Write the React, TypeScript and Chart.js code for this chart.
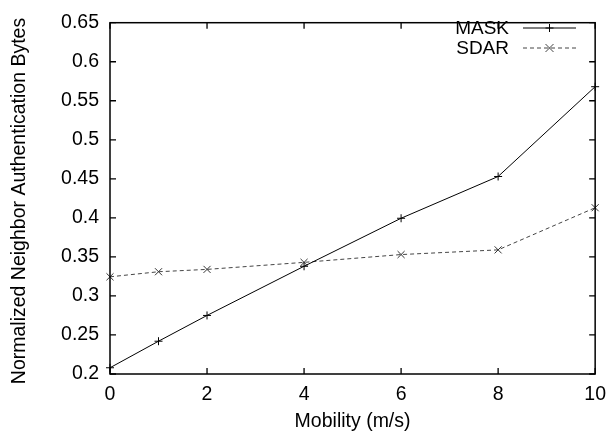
import React, { useEffect, useRef } from "react";
import { Chart, registerables } from "chart.js";

Chart.register(...registerables);

const mobility = [0, 1, 2, 4, 6, 8, 10];
const maskValues = [0.208, 0.242, 0.275, 0.338, 0.3995, 0.453, 0.568];
const sdarValues = [0.3245, 0.331, 0.334, 0.343, 0.353, 0.359, 0.413];
const xTicks = [0, 2, 4, 6, 8, 10];
const yTicks = [0.2, 0.25, 0.3, 0.35, 0.4, 0.45, 0.5, 0.55, 0.6, 0.65];
const yTitle = "Normalized Neighbor Authentication Bytes";
const xTitle = "Mobility (m/s)";

const FONT = "'Liberation Sans', Arial, sans-serif";

const frameTicks = {
  id: "frameTicks",
  afterDatasetsDraw(chart: any) {
    const { ctx, chartArea } = chart;
    const { left, right, top, bottom } = chartArea;
    const xs = chart.scales.x;
    const ys = chart.scales.y;
    const len = 6;
    ctx.save();
    ctx.strokeStyle = "#000";
    ctx.lineWidth = 1.3;
    ctx.beginPath();
    xTicks.forEach((v) => {
      const px = xs.getPixelForValue(v);
      ctx.moveTo(px, bottom);
      ctx.lineTo(px, bottom - len);
      ctx.moveTo(px, top);
      ctx.lineTo(px, top + len);
    });
    yTicks.forEach((v) => {
      const py = ys.getPixelForValue(v);
      ctx.moveTo(left, py);
      ctx.lineTo(left + len, py);
      ctx.moveTo(right, py);
      ctx.lineTo(right - len, py);
    });
    ctx.stroke();
    ctx.lineWidth = 1.5;
    ctx.strokeRect(left, top, right - left, bottom - top);
    ctx.restore();
  },
};

const yTitlePlugin = {
  id: "yTitlePlugin",
  afterDraw(chart: any) {
    const { ctx } = chart;
    ctx.save();
    ctx.translate(25, 201);
    ctx.rotate(-Math.PI / 2);
    ctx.fillStyle = "#000";
    ctx.font = `19.5px ${FONT}`;
    ctx.textAlign = "center";
    ctx.textBaseline = "alphabetic";
    ctx.fillText(yTitle, 0, 0);
    ctx.restore();
  },
};

const insideLegend = {
  id: "insideLegend",
  afterDraw(chart: any) {
    const { ctx } = chart;
    const textRight = 509;
    const lineStart = 523;
    const lineEnd = 576;
    const rows = [28, 48];
    ctx.save();
    chart.data.datasets.forEach((ds: any, i: number) => {
      const y = rows[i];
      ctx.fillStyle = "#000";
      ctx.font = `19px ${FONT}`;
      ctx.textAlign = "right";
      ctx.textBaseline = "middle";
      ctx.fillText(ds.label, textRight, y + 1);
      ctx.strokeStyle = ds.borderColor;
      ctx.lineWidth = ds.borderWidth;
      ctx.setLineDash(ds.borderDash || []);
      ctx.beginPath();
      ctx.moveTo(lineStart, y);
      ctx.lineTo(lineEnd, y);
      ctx.stroke();
      ctx.setLineDash([]);
      const cx = (lineStart + lineEnd) / 2;
      const r = ds.pointRadius;
      ctx.beginPath();
      if (ds.pointStyle === "cross") {
        ctx.moveTo(cx - r, y);
        ctx.lineTo(cx + r, y);
        ctx.moveTo(cx, y - r);
        ctx.lineTo(cx, y + r);
      } else {
        const d = r * 0.8;
        ctx.moveTo(cx - d, y - d);
        ctx.lineTo(cx + d, y + d);
        ctx.moveTo(cx - d, y + d);
        ctx.lineTo(cx + d, y - d);
      }
      ctx.stroke();
    });
    ctx.restore();
  },
};

export default function App() {
  const ref = useRef<HTMLCanvasElement>(null);
  useEffect(() => {
    if (!ref.current) return;
    const chart = new Chart(ref.current, {
      type: "line",
      data: {
        datasets: [
          {
            label: "MASK",
            data: mobility.map((x, i) => ({ x, y: maskValues[i] })),
            borderColor: "#000",
            borderWidth: 1,
            pointStyle: "cross",
            pointRadius: 4,
            pointBorderColor: "#000",
            pointBorderWidth: 1,
            backgroundColor: "#000",
            clip: false as any,
            tension: 0,
          },
          {
            label: "SDAR",
            data: mobility.map((x, i) => ({ x, y: sdarValues[i] })),
            borderColor: "#444",
            borderWidth: 1,
            borderDash: [4, 3],
            pointStyle: "crossRot",
            pointRadius: 5,
            pointBorderColor: "#333",
            pointBorderWidth: 1,
            backgroundColor: "#333",
            clip: false as any,
            tension: 0,
          },
        ],
      },
      plugins: [frameTicks, insideLegend, yTitlePlugin],
      options: {
        animation: false,
        responsive: false,
        maintainAspectRatio: false,
        layout: { padding: { top: 13, right: 15, left: 0, bottom: 0 } },
        plugins: { legend: { display: false }, tooltip: { enabled: false } },
        scales: {
          x: {
            type: "linear",
            min: 0,
            max: 10,
            grid: { display: false, drawTicks: false },
            border: { display: false },
            afterBuildTicks: (s: any) => {
              s.ticks = xTicks.map((v) => ({ value: v }));
            },
            afterFit: (s: any) => {
              s.height = 61;
            },
            ticks: {
              color: "#000",
              font: { family: FONT, size: 19.5 },
              padding: 9,
              maxRotation: 0,
              callback: (v: any) => String(v),
            },
            title: {
              display: true,
              text: xTitle,
              color: "#000",
              font: { family: FONT, size: 19.5 },
              padding: { top: 0, bottom: 2 },
            },
          },
          y: {
            type: "linear",
            min: 0.2,
            max: 0.65,
            grid: { display: false, drawTicks: false },
            border: { display: false },
            afterBuildTicks: (s: any) => {
              s.ticks = yTicks.map((v) => ({ value: v }));
            },
            afterFit: (s: any) => {
              s.width = 110;
            },
            ticks: {
              color: "#000",
              font: { family: FONT, size: 19.5 },
              padding: 11,
              callback: (v: any) => String(Number(Number(v).toFixed(2))),
            },
            title: { display: false },
          },
        },
      },
    });
    return () => chart.destroy();
  }, []);
  return (
    <div style={{ position: "fixed", left: 0, top: 0, width: 615, height: 435, background: "#fff" }}>
      <canvas ref={ref} width={615} height={435} style={{ width: 615, height: 435 }} />
    </div>
  );
}
